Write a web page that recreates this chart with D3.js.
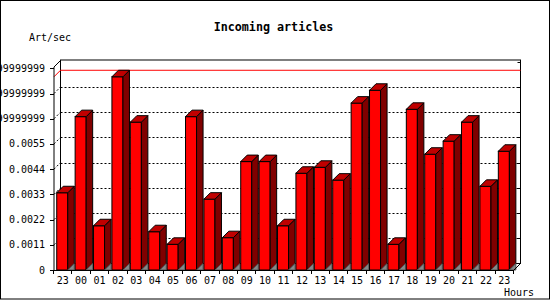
<!DOCTYPE html>
<html>
<head>
<meta charset="utf-8">
<script src="https://cdn.jsdelivr.net/npm/d3@7"></script>
<style>
  body { margin: 0; background: #fff; }
  svg { display: block; }
  text { font-family: "DejaVu Sans Mono", monospace; font-size: 10px; fill: #000; }
</style>
</head>
<body>
<div id="chart"></div>
<script>
//hours on the x axis
var hours = ['23','00','01','02','03','04','05','06','07','08','09','10','11','12','13','14','15','16','17','18','19','20','21','22','23'];
//articles per second
var artPerSec = [0.00337, 0.00669, 0.00193, 0.00843, 0.00645, 0.00167, 0.00112, 0.00669, 0.00309, 0.00141,
                 0.00473, 0.00473, 0.00193, 0.00422, 0.00448, 0.00392, 0.00728, 0.00784, 0.00112, 0.00701,
                 0.00505, 0.00562, 0.00645, 0.00365, 0.00518];
//y tick values and their labels as printed
var yTicks = [0, 0.0011, 0.0022, 0.0033, 0.0044, 0.0055, 0.0066, 0.0077, 0.0088];
var yTickLabels = ['0', '0.0011', '0.0022', '0.0033', '0.0044', '0.0055', '0.0065999999999999', '0.0076999999999999', '0.0087999999999999'];

var width = 550, height = 300;
var depth = 6.5;
var left = 54, right = 514, bottom = 270;

var svg = d3.select('#chart').append('svg')
  .attr('width', width)
  .attr('height', height);

var y = d3.scaleLinear().domain([0, 0.0089]).range([bottom, 66]);
var xb = d3.scaleBand().domain(d3.range(hours.length)).range([left, right]);
var x = d3.scaleBand().domain(d3.range(hours.length)).range([left, right])
  .paddingInner(0.4).paddingOuter(0.2).align(0.37);

function pts(arr) {
  return arr.map(function(p) { return p.join(','); }).join(' ');
}

//outer frame
svg.append('rect')
  .attr('x', 0.5).attr('y', 0.5)
  .attr('width', width - 1).attr('height', height - 1.5)
  .attr('fill', '#fff').attr('stroke', '#000');

//back wall
var backTop = y.range()[1] - depth + 0.5;
svg.append('rect')
  .attr('x', left + depth).attr('y', backTop)
  .attr('width', right + depth - left - depth).attr('height', bottom - depth - backTop)
  .attr('fill', '#fff').attr('stroke', '#000');

//grid lines (dotted) on the back wall and the floor diagonals
var gridTicks = yTicks.slice(1, yTicks.length - 1);
svg.selectAll('.grid').data(gridTicks).enter().append('line')
  .attr('class', 'grid')
  .attr('x1', left + depth).attr('x2', right + depth)
  .attr('y1', function(d) { return Math.round(y(d) - depth) + 0.5; })
  .attr('y2', function(d) { return Math.round(y(d) - depth) + 0.5; })
  .attr('stroke', '#000').attr('stroke-dasharray', '2,2');
svg.selectAll('.griddiag').data(gridTicks).enter().append('line')
  .attr('class', 'griddiag')
  .attr('x1', left).attr('x2', left + depth)
  .attr('y1', function(d) { return y(d); })
  .attr('y2', function(d) { return y(d) - depth; })
  .attr('stroke', '#000').attr('stroke-dasharray', '2,2');

//ticks on the right side of the wall
svg.selectAll('.rtick').data(yTicks.slice(1)).enter().append('line')
  .attr('class', 'rtick')
  .attr('x1', right + depth - 3).attr('x2', right + depth)
  .attr('y1', function(d) { return Math.round(y(d) - depth) + 0.5; })
  .attr('y2', function(d) { return Math.round(y(d) - depth) + 0.5; })
  .attr('stroke', '#000');

//max line
var maxVal = d3.max(artPerSec);
svg.append('polyline')
  .attr('points', pts([[left, y(maxVal)], [left + depth, y(maxVal) - depth], [right + depth, y(maxVal) - depth]]))
  .attr('fill', 'none').attr('stroke', '#ff0000');

//bars
var bars = svg.selectAll('.bar').data(artPerSec).enter().append('g').attr('class', 'bar');
bars.append('rect')
  .attr('x', function(d, i) { return x(i); })
  .attr('y', function(d) { return y(d); })
  .attr('width', x.bandwidth())
  .attr('height', function(d) { return bottom - y(d); })
  .attr('fill', '#ff0000').attr('stroke', '#000');
bars.append('polygon')
  .attr('points', function(d, i) {
    var xr = x(i) + x.bandwidth();
    return pts([[xr, y(d)], [xr + depth, y(d) - depth], [xr + depth, bottom - depth], [xr, bottom]]);
  })
  .attr('fill', '#800000').attr('stroke', '#000');
bars.append('polygon')
  .attr('points', function(d, i) {
    var xl = x(i), xr = x(i) + x.bandwidth();
    return pts([[xl, y(d)], [xl + depth, y(d) - depth], [xr + depth, y(d) - depth], [xr, y(d)]]);
  })
  .attr('fill', '#c00000').attr('stroke', '#000');
bars.append('polygon')
  .attr('points', function(d, i) {
    var xr = x(i) + x.bandwidth();
    return pts([[xr, bottom], [xr + depth, bottom - depth], [xr + depth, bottom]]);
  })
  .attr('fill', '#888888').attr('stroke', '#555');

//front axes
svg.append('line')
  .attr('x1', left).attr('x2', left).attr('y1', y.range()[1] + 1).attr('y2', bottom)
  .attr('stroke', '#000');
svg.append('line')
  .attr('x1', left).attr('x2', left + depth).attr('y1', y.range()[1] + 1).attr('y2', y.range()[1] + 1 - depth)
  .attr('stroke', '#000');
svg.append('line')
  .attr('x1', left).attr('x2', right).attr('y1', bottom + 0.5).attr('y2', bottom + 0.5)
  .attr('stroke', '#000');
svg.append('line')
  .attr('x1', right).attr('x2', right + depth).attr('y1', bottom).attr('y2', bottom - depth)
  .attr('stroke', '#000');

//y ticks and labels
svg.selectAll('.ytick').data(yTicks).enter().append('line')
  .attr('class', 'ytick')
  .attr('x1', left - 4).attr('x2', left)
  .attr('y1', function(d) { return Math.round(y(d)) + 0.5; })
  .attr('y2', function(d) { return Math.round(y(d)) + 0.5; })
  .attr('stroke', '#000');
svg.selectAll('.ylabel').data(yTicks).enter().append('text')
  .attr('class', 'ylabel')
  .attr('x', 45)
  .attr('y', function(d) { return y(d); })
  .attr('dy', '0.35em')
  .attr('text-anchor', 'end')
  .text(function(d, i) { return yTickLabels[i]; });

//x ticks and labels
svg.selectAll('.xtick').data(d3.range(hours.length + 1)).enter().append('line')
  .attr('class', 'xtick')
  .attr('x1', function(i) { return Math.round(left + i * xb.step()) - 0.5; })
  .attr('x2', function(i) { return Math.round(left + i * xb.step()) - 0.5; })
  .attr('y1', bottom).attr('y2', bottom + 4)
  .attr('stroke', '#000');
svg.selectAll('.xlabel').data(hours).enter().append('text')
  .attr('class', 'xlabel')
  .attr('x', function(d, i) { return xb(i) + xb.bandwidth() / 2 - 0.5; })
  .attr('y', 280)
  .attr('dy', '0.35em')
  .attr('text-anchor', 'middle')
  .text(function(d) { return d; });

//titles
svg.append('text')
  .attr('x', 273.5).attr('y', 27).attr('dy', '0.35em')
  .attr('text-anchor', 'middle')
  .style('font-weight', 'bold').style('font-size', '11.7px')
  .text('Incoming articles');
svg.append('text')
  .attr('x', 29).attr('y', 37).attr('dy', '0.35em')
  .text('Art/sec');
svg.append('text')
  .attr('x', 534).attr('y', 292).attr('dy', '0.35em')
  .attr('text-anchor', 'end')
  .text('Hours');
</script>
</body>
</html>
